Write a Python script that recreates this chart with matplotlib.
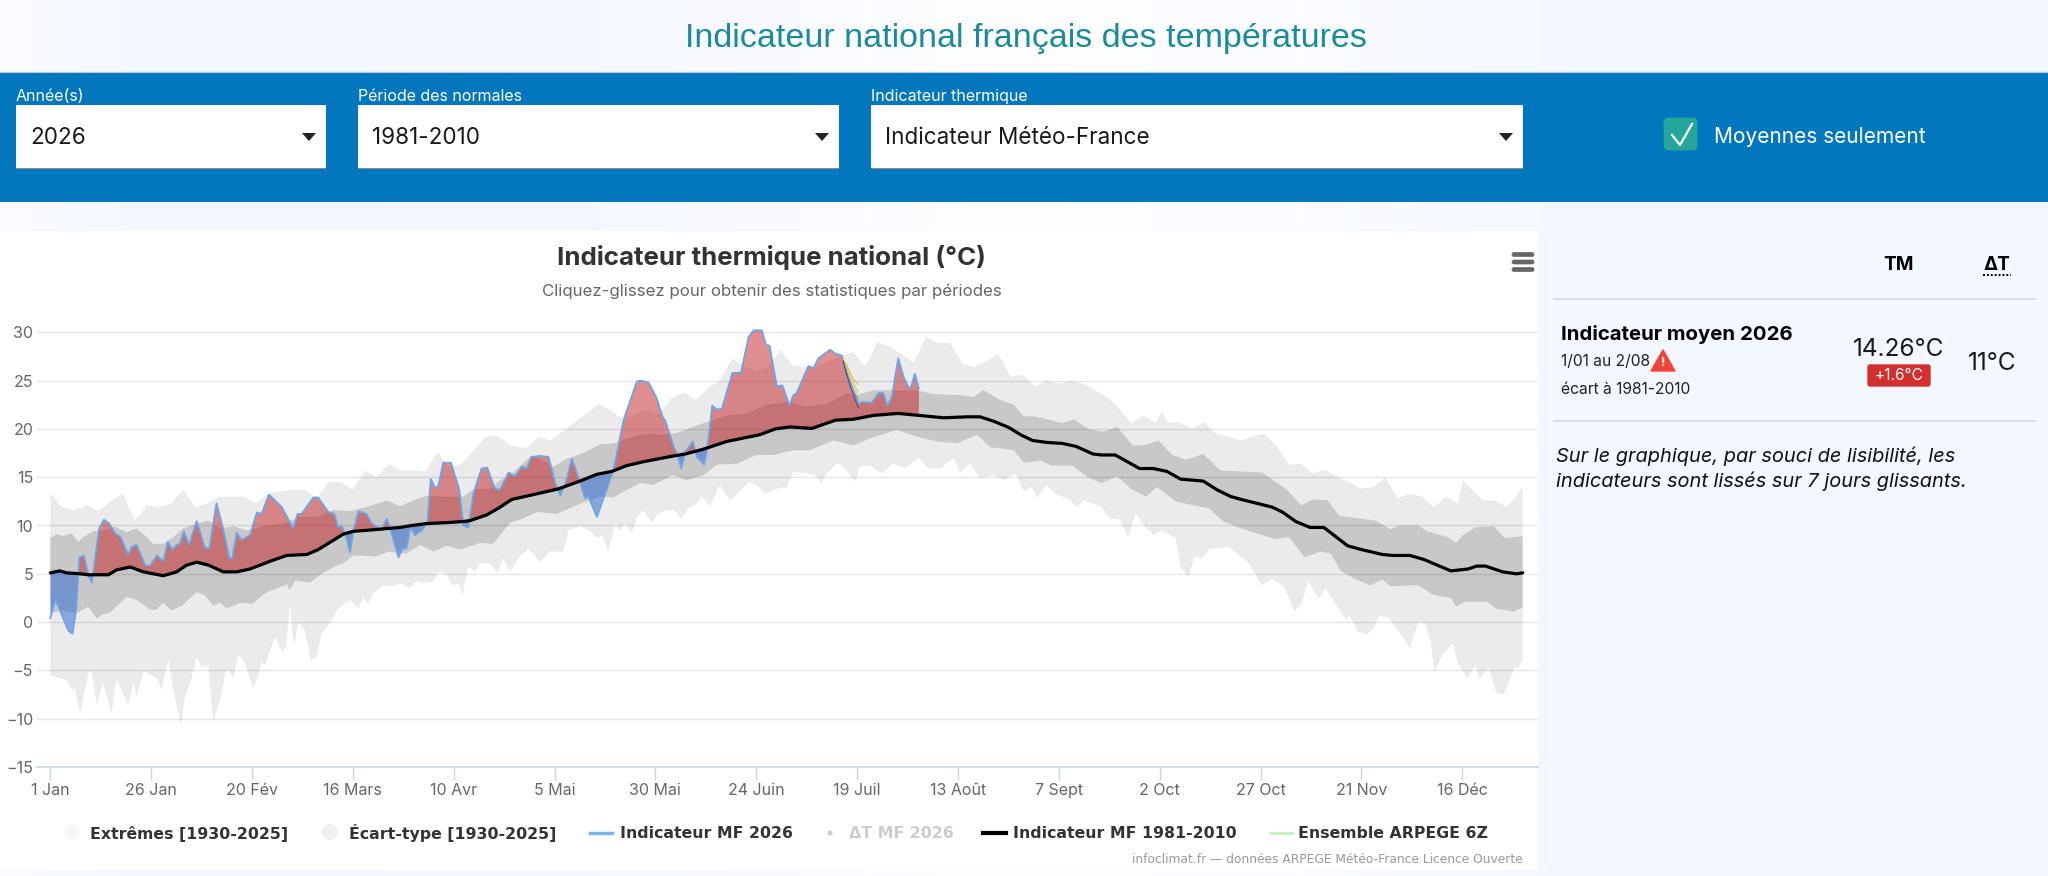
import numpy as np
import matplotlib
matplotlib.use("Agg")
import matplotlib.pyplot as plt
from matplotlib.patches import Rectangle, FancyBboxPatch, Polygon, Circle

# ---------- data (days since 1 Jan, degrees C) ----------
x_tick_days = [0, 25, 50, 75, 100, 125, 150, 175, 200, 225, 250, 275, 300, 325, 350]
x_tick_labels = ["1 Jan", "26 Jan", "20 Fév", "16 Mars", "10 Avr", "5 Mai", "30 Mai", "24 Juin",
                 "19 Juil", "13 Août", "7 Sept", "2 Oct", "27 Oct", "21 Nov", "16 Déc"]
y_ticks = [-15, -10, -5, 0, 5, 10, 15, 20, 25, 30]
y_tick_labels = ["−15", "−10", "−5", "0", "5", "10", "15", "20", "25", "30"]

ext_hi_days = [0,3,6,9,12,15,18,21,24,27,30,33,36,39,42,45,48,51,54,57,60,63,66,69,72,75,78,81,84,87,90,93,96,99,102,105,108,111,114,
               118,121,124,127,130,133,136,139,142,145,148,151,154,157,160,163,166,169,172,175,178,181,184,187,190,193,196,199,202,205,208,211,214,217,220,223,226,229,232,235,238,
               241,244,247,250,253,256,259,262,265,268,271,274,275.5,277,280,283,286,289,292,295,298,301,304,307,310,313,316,319,322,325,328,331,334,337,340,343,346,349,350.2,355,358,361,363,365]
ext_hi = [13.3,11.9,11.6,12.1,11.5,12.5,13.3,10.5,12.1,11.9,12.3,13.7,11.9,12.3,13.0,13.0,13.0,12.3,13.3,13.5,13.7,13.7,12.8,14.5,14.5,13.7,15.7,15.0,16.4,15.7,15.7,15.6,17.6,16.0,16.4,17.8,19.2,19.3,18.3,
          18.0,19.2,18.8,19.7,20.7,21.6,22.6,21.9,21.0,21.5,22.0,21.5,23.2,23.8,23.0,24.2,25.0,27.3,26.5,26.0,26.5,28.2,26.6,26.4,26.4,27.0,27.5,28.0,26.4,29.0,28.5,27.8,26.8,29.5,28.9,28.9,26.8,26.4,27.0,27.8,25.4,
          25.6,24.4,25.0,24.7,25.0,24.7,24.0,23.3,22.1,20.6,21.4,20.6,21.8,20.6,20.7,20.0,20.7,19.5,19.2,18.8,19.2,19.5,18.2,16.3,16.4,15.4,15.8,15.0,14.5,13.8,14.0,15.0,12.8,13.3,13.0,11.9,13.0,12.3,14.7,12.6,12.6,11.9,12.8,14.0]

ext_lo_days = [0,4,5.3,6.1,7.4,9.4,10.2,11.5,13.1,15.2,16.4,19.3,20.6,21.4,23.1,26.4,27.6,29.3,30.5,32.4,33.4,35,36.3,37.5,39.2,40.4,42.1,43.7,45.4,46.6,48.3,50.3,51.6,52.4,53.2,55.7,57.4,58.4,59.4,60.4,61.5,63.1,64.5,66,67.3,69.3,71,72.6,74.3,76.4,77.6,78.8,80.1,82.6,84.6,86.7,89.2,90.8,92.5,95,96.2,98.3,99.5,101.2,102.2,103.6,105.3,106.5,109,110.8,112.3,114,116,
               118.5,120.2,121.4,123.9,127.2,128.4,131.3,133.8,135.5,136.7,138.3,140,141.2,142.5,144.1,145.4,147,149.1,150.7,152.8,154.5,156.5,158.2,159.8,161.5,163.6,166,168.5,171,173,175.1,177.2,180.1,182.6,184.2,187.5,189.6,191.2,192.5,195.1,197.4,199.5,200.7,203.2,206.1,209,211.9,215.2,217.7,220.6,224,225.5,228,230.5,233.8,
               236.3,239.3,241.4,243.1,244.6,247,249.1,252.9,254.4,256.3,260.6,262.7,264.9,267.2,269.1,271.3,273.4,275.5,279,280.2,282.2,283.6,285.4,287.5,292.2,294.3,296.9,300.3,302.9,305.8,308.4,310.1,311.8,314.4,316.1,321.2,322,324.2,326.3,328,329.3,331.9,334.4,337,339.1,340.8,342.1,343.1,345.1,347.6,348.9,351.3,353.2,354.2,356.6,358.4,360.2,363.1,363.9,365]
ext_lo = [-5.5,-6,-7,-6.9,-9.5,-5.3,-5,-8.6,-6.3,-9.5,-5.8,-8.6,-6.3,-7.7,-5.1,-5.8,-7,-3.8,-7,-10.8,-7.7,-5.8,-3.7,-4.6,-4.6,-10.4,-8,-4.8,-5.8,-3.3,-4.3,-6.9,-5.5,-4.1,-4.5,-1.5,-3.1,-2.6,1.8,-2.4,-0.1,-0.8,-3.9,-3.6,-1.2,-0.1,1.2,1.8,2.3,1.4,2.6,1.8,3,3.8,3.7,4,3.5,4.3,4,4.2,5.2,5,3.8,4,2.8,5.7,5.2,6.1,6.1,5,6.6,5.2,6.6,
          7.6,6.8,6.2,7.3,7.3,9.5,9.9,9.4,8.7,9,7.3,10,9.5,10.2,9.2,10.9,11.6,10.3,11.2,11.6,11.6,10.7,11.8,12.1,13,12,14.2,12.6,13.5,14.5,14.2,13.3,13.8,14,15.6,15.4,15.2,14.4,15.4,16.5,15.7,14.5,16.1,16.2,15.4,16.4,15.9,17,15.9,15.9,17,15.4,16.4,14.9,15.2,
          14.7,15.4,13.5,14,12.9,14.2,13.3,12.6,11.9,12.6,11.9,10.7,10.7,8.8,11.2,9.9,9,9.5,8.7,5.6,4.7,6.8,6.6,7.6,7.8,7,6.2,3.8,4.5,3.7,1.1,1.8,4.3,2.4,3.5,0.2,0.7,-1,-1.3,-0.7,0.7,0.4,-1,-2.7,0,-0.1,-1.9,-5.1,-3.4,-2.2,-4.3,-5.8,-4.5,-5.8,-4.8,-7.3,-7.5,-4.6,-4.8,-3.8]

std_hi_days = [0,1.6,3.2,5.3,6.9,8.2,10.7,13.1,16,18.9,21.4,23.9,25.5,28,30.5,33,36.3,39.2,42.1,45.4,48.7,53.6,57.8,61.9,66,70.2,74.3,78.4,83.4,86.7,90,93.3,97.4,102.4,104.9,109,111.5,114,
               118.9,121.4,124.7,128,132.1,136.3,139.6,144.5,147.9,152.8,156.1,161.9,167.7,172.6,177.6,182.6,187.5,192.5,197.4,199.9,204.1,209,214.8,218.9,225.5,228.8,231.3,
               235.4,238.8,241.4,244,246.1,250.8,253.8,257.2,261,264.5,268.3,271.3,274.7,278.1,281.5,285.8,290.1,294.3,300.3,306.3,310.1,313.1,316.6,319.5,325.1,328.5,332.3,334.4,339.1,341.3,346.4,348.5,350.2,353.2,357.9,360.5,365]
std_hi = [8.7,9.1,8.9,9.2,8.3,8.8,9.4,9.5,9.9,9.3,9.7,8.8,8.1,8.1,8.8,9.7,10.2,10.5,9.7,9.9,9.5,10,10.2,10.9,10.9,11.6,11.5,11.9,12.6,12,12.6,13.1,13,13,13.8,13.8,14.7,15.2,
          17.1,16.9,16.1,16.9,17.5,18.4,18.5,19.2,19.5,19.4,19.7,20.6,21.4,21.6,22.5,22.8,22.3,22.6,23.7,23.5,24,24,24,23.6,23.5,23.3,24,
          23,22.5,21.3,21.3,21.1,20.6,21,20,19.7,20.2,18.3,18.3,18.8,17.3,16.8,17.4,15.7,15.6,15.5,13.8,12.1,12.7,12.6,11,10.7,10.5,9.6,10,10,9.4,8.8,8.2,9,9.8,9.9,8.7,8.9]

std_lo_days = [0,3,6.5,9.4,11.5,13.1,14.8,18.9,21.4,24.7,26.4,28,30.1,32.6,36.3,38.3,40.4,42.1,43.7,47,50.3,53.2,58.6,59.4,60.7,64.4,66.9,70.2,72.6,75.1,80.9,83.8,88.3,91.7,95,98.3,101.6,106.5,109.8,114,
               116.4,120.6,125.5,130.5,136.3,139.6,142.9,146.2,149.5,154.4,157.8,161.9,165.2,170.2,175.1,179.3,184.2,188.3,194.1,199.1,203.2,209.8,214.8,219.8,224.7,229.7,233,
               235.4,238.8,241.4,245.7,248.1,253.3,257.2,260.6,264.5,267.9,271.7,274.3,279,283.2,287.1,290.9,295.2,302,303.7,307.1,310.9,314.8,317.4,319.9,323.3,327.2,330.2,332.3,337,339.1,343,347.2,348.5,350.7,356.2,358.4,362.6,365]
std_lo = [0.9,1.2,0.9,1.6,0.4,0.8,1,2.6,2.3,1.3,1.3,2,1.2,1.7,3.1,2.8,1.7,2,1.4,2,1.9,3,3.9,3.3,4.3,4.1,4.9,5.7,6.1,6.9,6.8,7.3,7.1,8,7.3,7.9,7.5,8.2,8.1,10.3,
          10.6,11.4,11.2,12.1,13,12.9,13.7,14.4,14.2,15.2,14.7,15.2,16.3,16.4,17.3,17.3,17.8,17.8,18.8,18.3,19,19.9,19.2,18.7,18.5,19.4,18.1,
          18,17.8,16.5,16.7,16.2,16.2,15,14.4,15.1,13.8,13,14,12.5,12.1,11.8,10.4,9.7,8.8,8.6,8.8,6.7,7.3,7.1,5.3,4.5,3.8,4.4,3.7,3.8,3.8,2.8,2.5,1.6,2.1,2.1,1.4,1.1,1.5]

normal_days = [0,2.4,4,7.4,9.4,14.4,16.4,19.8,23.1,28,31.3,33.8,36.3,39.2,42.9,46.2,49.5,54.5,58.6,63.6,66.4,72.6,75.1,78.4,86.7,89.6,93.3,98.3,102,104,108.2,111.5,114.4,
               119.8,126,131.3,135.5,139.2,142.9,147,154.5,157.4,161.9,167.7,175.9,179.7,183.4,188.8,194.6,199.1,204.1,210.2,215.3,221.4,227.2,230.5,233.8,
               237.6,240.5,243.5,247,250.8,254.2,258.5,260.6,264,267,270,273.4,276.8,280.2,285.8,289.2,292.6,295.2,302.9,305.4,308.8,312.3,315.7,321.6,325.1,330.2,332.7,337,340.4,347.2,351.5,353.6,355.8,360,363.5,365]
normal = [5.1,5.3,5.1,5,4.9,4.9,5.4,5.7,5.2,4.8,5.2,5.9,6.2,5.9,5.2,5.2,5.5,6.3,6.9,7,7.5,9.1,9.4,9.5,9.8,10,10.2,10.3,10.4,10.5,11.1,11.9,12.7,
          13.2,13.8,14.6,15.3,15.6,16.2,16.6,17.2,17.4,17.9,18.7,19.4,20,20.2,20.05,20.9,21,21.4,21.6,21.4,21.15,21.25,21.25,20.8,
          20.15,19.4,18.8,18.6,18.5,18.2,17.4,17.3,17.3,16.6,15.9,15.9,15.6,14.8,14.6,13.7,13,12.7,11.9,11.4,10.4,9.8,9.8,7.9,7.5,7,6.9,6.9,6.5,5.3,5.5,5.8,5.8,5.2,5,5.1]

mf2026_days = [0,1.3,4.5,5.5,6.4,7.2,8.3,9.4,10.3,12.1,13.3,14.6,16,17.4,19.3,20.2,21.4,23.5,24.7,26.4,28,29.1,30.3,31.3,32.1,33.1,34.4,36.3,38.3,39.4,41.2,42.7,44.4,45.1,46.2,47.4,49.5,51.2,52.4,54.2,57.4,60.2,61.3,62.3,65.2,66.4,68.9,70.4,71.4,72.2,73.1,74.3,75.1,76.4,78.4,79.7,80.9,82.1,83.4,84.2,86.3,87.3,88.3,89.3,90.4,92.1,93.5,94.3,95.4,96.2,97.4,99.3,101.4,102.4,103.6,104.9,106.9,108.3,110.2,111.5,113.6,115.2,116.9,118.1,
               119.3,121.4,123.5,125.1,126.4,127.6,129.3,130.9,132.6,133.4,135.5,137.9,139.6,142.1,145.4,146.2,148.3,150.3,151.8,152.4,154.5,155.3,156.4,157.4,159.3,160.3,162.1,162.9,164.1,165.2,166.5,169.1,171.2,173.1,174.3,176.4,177.4,178.3,180.1,181.5,183.2,184.2,185,187.9,189.2,190.4,193.3,194.6,196.2,197.8,198.7,200.3,201.2,203.6,205.3,206.5,207.5,208.6,210.2,211.5,212.7,213.3,214.3,215.3]
mf2026 = [0.4,2.3,-0.9,-1.2,1.3,6.7,6.9,4.9,4.1,9.7,10.6,10.2,9.2,8.8,7,7.8,8,5.9,5.8,6.9,6.3,8.3,7.5,8,8.1,9.35,8,10.45,7.7,7.6,12.3,9.9,6.6,6.6,9.25,8.5,9,11.35,11.2,13.2,11.9,9.7,11.2,11.2,12.9,12.9,11.4,11.2,9.8,9.9,9.2,7.2,9.4,11.5,11.2,10.2,9.9,9.5,10.7,9.8,6.7,7.6,7.6,9.9,9,9.5,10.4,14.8,13.9,14.1,16.5,16.5,13.7,10,9.8,13.3,15.9,16,13.8,13.7,15.5,15.1,16.1,15.9,
          17.1,17.2,17.1,14.5,13.1,14.2,16.9,15,12.8,13,10.9,13.7,15.7,20.9,24.9,25,24.8,23.2,21.2,20.9,18.2,17.5,15.9,17.6,18.7,17.1,16.3,18.1,22.4,22,22.1,25.8,25.8,29.5,30.2,30.2,28.7,28.6,24.4,24.5,22.4,23.5,23.7,26.5,26.3,27.3,28.2,27.8,27.6,25,24,22.6,22.8,22.7,23.7,23.7,22.4,23.3,27.3,25.4,24.3,24.2,25.7,24.2]

ens_days = [196.5, 197.5, 198.5, 199.5, 200.3]
ens_a = [27.2, 26.6, 25.6, 24.9, 24.6]
ens_b = [27.2, 26.3, 25.2, 24.4, 23.8]
ens_c = [27.1, 26.0, 24.9, 24.0, 23.3]
ens_d = [27.1, 25.8, 24.6, 23.6, 22.9]
ens_e = [27.0, 25.5, 24.2, 23.1, 22.2]
ens_series = [ens_a, ens_b, ens_c, ens_d, ens_e]
ens_colors = ["#f5a742", "#a8d86a", "#e3c94f", "#7a6fd0", "#4a4a5a"]

legend_items = ["Extrêmes [1930-2025]", "Écart-type [1930-2025]", "Indicateur MF 2026", "ΔT MF 2026",
                "Indicateur MF 1981-2010", "Ensemble ARPEGE 6Z"]

# ---------- layout ----------
W, H = 2048, 876
fig = plt.figure(figsize=(W / 100, H / 100), dpi=100)
ui = fig.add_axes([0, 0, 1, 1])
ui.set_xlim(0, W); ui.set_ylim(H, 0); ui.axis("off")

def px(s):
    return s * 0.72

PAGE = "#f3f7ff"
stops_x = [0, 150, 600, 1000, 1300, 1600, 2048]
stops_c = np.array([[250, 252, 255], [243, 247, 255], [245, 248, 255], [254, 254, 255], [250, 252, 255], [243, 247, 255], [243, 247, 255]]) / 255
grad = np.stack([np.interp(np.arange(W), stops_x, stops_c[:, i]) for i in range(3)], axis=1)[None, :, :]
ui.imshow(grad, extent=[0, W, H, 0], aspect="auto", zorder=0)
ui.set_xlim(0, W); ui.set_ylim(H, 0)

ui.add_patch(Rectangle((0, 231), 1538, 639, fc="white", ec="none", zorder=1))
ui.add_patch(Rectangle((1538, 231), 510, 645, fc=PAGE, ec="none", zorder=1))
ui.add_patch(Rectangle((0, 72), W, 130, fc="#0277bd", ec="none", zorder=1))
ui.plot([0, W], [72, 72], color="#a9cfe8", lw=0.8, zorder=2)

UI_FONT = ["Inter", "DejaVu Sans"]
ui.text(1026, 38.5, "Indicateur national français des températures", family="Liberation Sans", size=px(34),
        color="#1b8a9a", ha="center", va="center", zorder=3)

for (x0, x1, lab, val) in [(16, 326, "Année(s)", "2026"), (358, 839, "Période des normales", "1981-2010"),
                           (871, 1523, "Indicateur thermique", "Indicateur Météo-France")]:
    ui.add_patch(Rectangle((x0, 105), x1 - x0, 64, fc="white", ec="none", zorder=2))
    ui.add_patch(Rectangle((x0, 167.5), x1 - x0, 1.5, fc="#8a8a8a", ec="none", zorder=3))
    ui.text(x0, 96.5, lab, family=UI_FONT, size=px(16), color="white", ha="left", va="center", zorder=3)
    ui.text(x0 + 14, 138.5, val, family=UI_FONT, size=px(22.5), color="#1a1a1a", ha="left", va="center", zorder=3)
    ax_c = x1 - 17
    ui.add_patch(Polygon([[ax_c - 7, 133], [ax_c + 7, 133], [ax_c, 141]], fc="#222222", ec="none", zorder=3))

ui.add_patch(FancyBboxPatch((1665, 119), 31, 30, boxstyle="round,pad=0,rounding_size=3", fc="#26a69a", ec="#26a69a", lw=2, zorder=2))
ui.plot([1672, 1680, 1692], [135, 145, 124], color="white", lw=1.6, zorder=3)
ui.text(1714, 137, "Moyennes seulement", family=UI_FONT, size=px(20.9), color="white", ha="left", va="center", zorder=3)

ui.text(771.5, 258, "Indicateur thermique national (°C)", family=UI_FONT, weight="bold", size=px(25.9), color="#333333",
        ha="center", va="center", zorder=3)
ui.text(772, 291, "Cliquez-glissez pour obtenir des statistiques par périodes", family=UI_FONT, size=px(16.9), color="#666666",
        ha="center", va="center", zorder=3)
for yy in (254.5, 262, 269.5):
    ui.add_patch(FancyBboxPatch((1512, yy - 2), 22, 4, boxstyle="round,pad=0,rounding_size=2", fc="#666666", ec="#666666", lw=0.5, zorder=3))

# side panel
ui.text(1899, 265, "TM", family=UI_FONT, weight="bold", size=px(19), color="black", ha="center", va="center", zorder=3)
ui.text(1997, 265, "ΔT", family=UI_FONT, weight="bold", size=px(19), color="black", ha="center", va="center", zorder=3)
ui.plot([1983, 2011], [274.5, 274.5], color="black", lw=1.4, ls=(0, (1, 1)), zorder=3)
for yy in (299, 421):
    ui.plot([1554, 2035], [yy, yy], color="#d8dde6", lw=1.4, zorder=2)
ui.text(1561, 335, "Indicateur moyen 2026", family=UI_FONT, weight="bold", size=px(20.4), color="black", ha="left", va="center", zorder=3)
ui.text(1561, 361, "1/01 au 2/08", family=UI_FONT, size=px(15.6), color="#222222", ha="left", va="center", zorder=3)
ui.add_patch(Polygon([[1651, 371], [1675, 371], [1663, 350]], fc="#f44336", ec="#f44336", lw=1, joinstyle="round", zorder=3))
ui.text(1663, 362.5, "!", family=UI_FONT, weight="bold", size=px(13), color="white", ha="center", va="center", zorder=4)
ui.text(1561, 389, "écart à 1981-2010", family=UI_FONT, size=px(15.6), color="#222222", ha="left", va="center", zorder=3)
ui.text(1899, 350, "14.26°C", family=UI_FONT, size=px(24.4), color="#1a1a1a", ha="center", va="center", zorder=3)
ui.add_patch(FancyBboxPatch((1868, 365), 62, 21, boxstyle="round,pad=0,rounding_size=2", fc="#d32f2f", ec="#d32f2f", lw=1, zorder=3))
ui.text(1899, 376, "+1.6°C", family=UI_FONT, size=px(15.5), color="white", ha="center", va="center", zorder=4)
ui.text(1992, 363, "11°C", family=UI_FONT, size=px(24.4), color="#1a1a1a", ha="center", va="center", zorder=3)
ui.text(1556, 456, "Sur le graphique, par souci de lisibilité, les", family=UI_FONT, style="italic", size=px(20), color="#111111", ha="left", va="center", zorder=3)
ui.text(1556, 481, "indicateurs sont lissés sur 7 jours glissants.", family=UI_FONT, style="italic", size=px(20), color="#111111", ha="left", va="center", zorder=3)

# legend
LEG_Y = 833.5
ui.add_patch(Circle((72, 832), 8, fc="#f8f8f8", ec="none", zorder=3))
ui.add_patch(Circle((330, 832), 8, fc="#f0f0f0", ec="none", zorder=3))
ui.plot([590, 612], [833, 833], color="#7cb5ec", lw=2.5, zorder=3)
ui.add_patch(Circle((830, 833), 2.5, fc="#cccccc", ec="none", zorder=3))
ui.plot([983, 1006], [833, 833], color="black", lw=3, zorder=3)
ui.plot([1270, 1292], [833, 833], color="#c9efc0", lw=2, zorder=3)
legend_x = [90, 349, 620, 849, 1013, 1298]
legend_colors = ["#333333", "#333333", "#333333", "#cccccc", "#333333", "#333333"]
for xx, lab, col in zip(legend_x, legend_items, legend_colors):
    ui.text(xx, LEG_Y, lab, family="DejaVu Sans", weight="bold", size=px(15.7), color=col, ha="left", va="center", zorder=3)
ui.text(1523, 859.5, "infoclimat.fr — données ARPEGE Météo-France Licence Ouverte", family="DejaVu Sans", size=px(12.3), color="#999999",
        ha="right", va="center", zorder=3)

# ---------- chart ----------
PX_DAY, X0 = 4.034, 50.3
PX_DEG, Y0 = 9.66, 622.1
L, R, B, T = 37.3, 1538, 767, 317.3
ax = fig.add_axes([L / W, 1 - B / H, (R - L) / W, (B - T) / H])
ax.patch.set_alpha(0)
ax.set_xlim((L - X0) / PX_DAY, (R - X0) / PX_DAY)
ax.set_ylim((Y0 - B) / PX_DEG, (Y0 - T) / PX_DEG)

ax.set_yticks(y_ticks); ax.set_yticklabels(y_tick_labels)
ax.set_xticks(x_tick_days); ax.set_xticklabels(x_tick_labels)
ax.tick_params(axis="y", length=0, pad=3, labelsize=px(16), labelcolor="#666666")
ax.tick_params(axis="x", length=9.4, width=1.0, color="#ccd6eb", pad=2, labelsize=px(16), labelcolor="#666666")
for lab in ax.get_xticklabels() + ax.get_yticklabels():
    lab.set_family(UI_FONT)
ax.grid(axis="y", color="#e6e6e6", lw=1.0, zorder=0)
ax.set_axisbelow(True)
for s in ("top", "left", "right"):
    ax.spines[s].set_visible(False)
ax.spines["bottom"].set_color("#ccd6eb"); ax.spines["bottom"].set_linewidth(1.2)

def band(days_hi, hi, days_lo, lo, **kw):
    xs = np.r_[days_hi, days_lo[::-1]]
    ys = np.r_[hi, lo[::-1]]
    return ax.fill(xs, ys, ec="none", **kw)[0]

band(ext_hi_days, ext_hi, ext_lo_days, ext_lo, fc="black", alpha=0.08, zorder=2)
band(std_hi_days, std_hi, std_lo_days, std_lo, fc="black", alpha=0.15, zorder=3)

# red above the normals, blue below: one polygon, clipped along the normals curve
nd = np.array(normal_days); nv = np.array(normal)
mask = nd <= mf2026_days[-1]
poly_x = np.r_[mf2026_days, nd[mask][::-1]]
poly_y = np.r_[mf2026, nv[mask][::-1]]
ymin, ymax = ax.get_ylim()
above = Polygon(np.c_[np.r_[nd, nd[-1], nd[0]], np.r_[nv, ymax, ymax]], transform=ax.transData)
below = Polygon(np.c_[np.r_[nd, nd[-1], nd[0]], np.r_[nv, ymin, ymin]], transform=ax.transData)
red = ax.fill(poly_x, poly_y, fc="#c31e23", alpha=0.5, ec="none", zorder=4)[0]
red.set_clip_path(above)
blue = ax.fill(poly_x, poly_y, fc="#2864d2", alpha=0.5, ec="none", zorder=4)[0]
blue.set_clip_path(below)

ax.plot(mf2026_days, mf2026, color="#6ea5e6", lw=1.3, zorder=5, clip_on=False, solid_joinstyle="round")
for vals, col in zip(ens_series, ens_colors):
    ax.plot(ens_days, vals, color=col, lw=0.7, zorder=6)
ax.plot(normal_days, normal, color="black", lw=2.3, zorder=7, solid_capstyle="round", solid_joinstyle="round")

fig.savefig("out.png", dpi=100)
